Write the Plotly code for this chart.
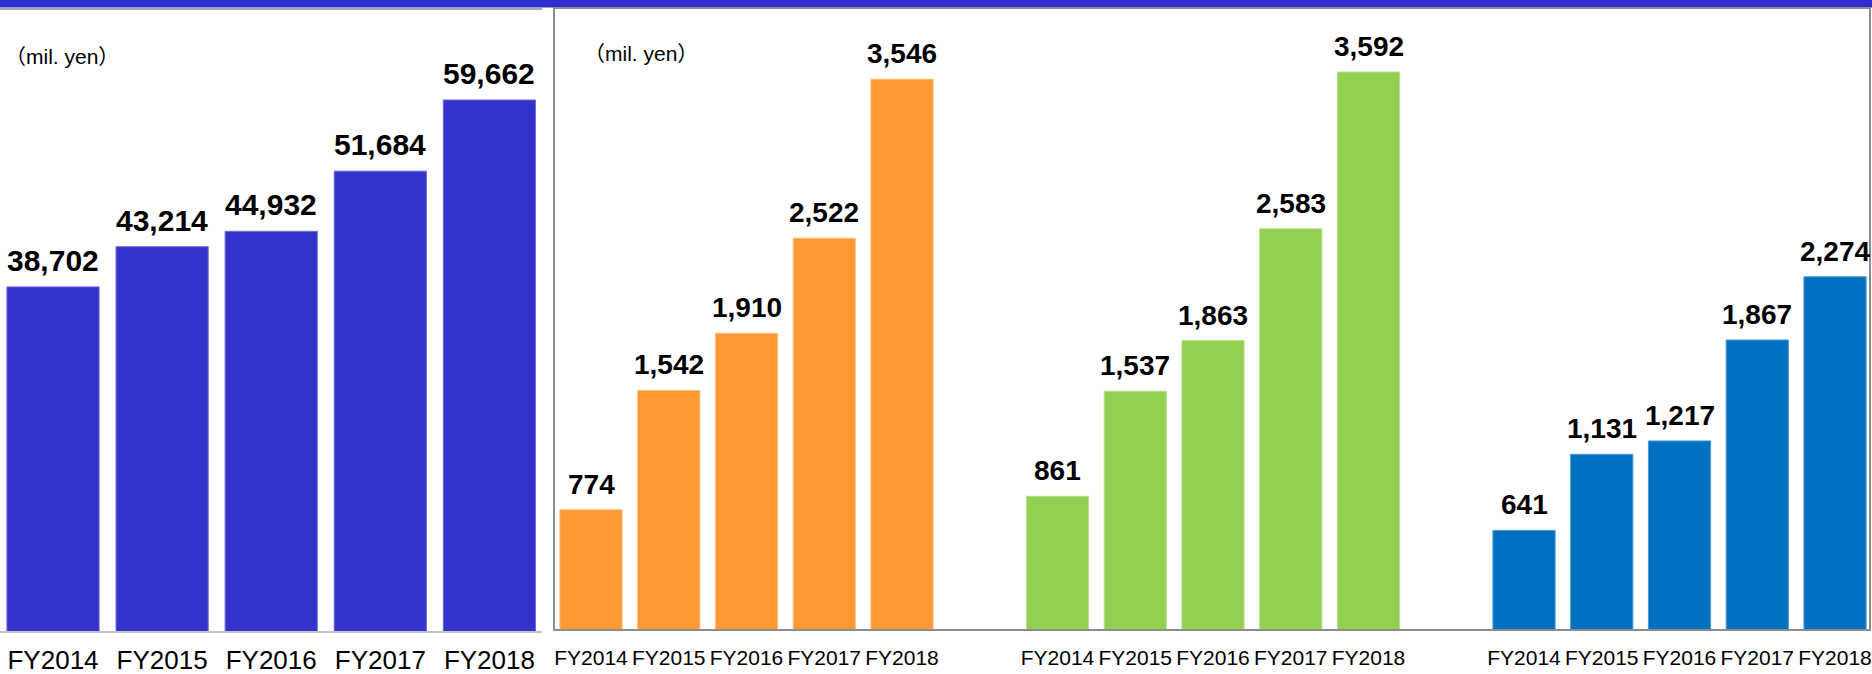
import plotly.graph_objects as go

# Fiscal years shared by every panel
years = ["FY2014", "FY2015", "FY2016", "FY2017", "FY2018"]

# Net sales (mil. yen)
net_sales = [38702, 43214, 44932, 51684, 59662]

# Three profit series (mil. yen) shown side by side in the right panel
series_a = [774, 1542, 1910, 2522, 3546]
series_b = [861, 1537, 1863, 2583, 3592]
series_c = [641, 1131, 1217, 1867, 2274]

W, H = 1872, 674


def px_x(p):
    return p / W


def px_y(p):
    return 1 - p / H


FONT = "Liberation Sans, Arial, sans-serif"

fig = go.Figure()

# ---- left panel: net sales ----
fig.add_trace(go.Bar(
    x=years, y=net_sales, width=0.845,
    marker=dict(color="#3333CC", line=dict(color="#6B6BDD", width=1)),
    xaxis="x", yaxis="y", hoverinfo="skip",
))

# ---- right panel: three groups of five bars, one empty slot between groups ----
right_colors = ["#FF9933", "#92D050", "#0070C0"]
right_edges = ["#FFBE7A", "#B6E08E", "#4A9AD6"]
right_series = [series_a, series_b, series_c]
slots_per_group = len(years) + 1
tick_vals, tick_text = [], []
for g, (vals, col, edge) in enumerate(zip(right_series, right_colors, right_edges)):
    xs = [g * slots_per_group + i for i in range(len(years))]
    tick_vals += xs
    tick_text += years
    fig.add_trace(go.Bar(
        x=xs, y=vals, width=0.80,
        marker=dict(color=col, line=dict(color=edge, width=1)),
        xaxis="x2", yaxis="y2", hoverinfo="skip",
    ))
    for xv, v in zip(xs, vals):
        fig.add_annotation(
            x=xv, y=v, xref="x2", yref="y2", text=f"{v:,}",
            showarrow=False, yanchor="bottom", yshift=8,
            font=dict(family=FONT, size=28, color="#000000", weight="bold"),
        )

for yr, v in zip(years, net_sales):
    fig.add_annotation(
        x=yr, y=v, xref="x", yref="y", text=f"{v:,}",
        showarrow=False, yanchor="bottom", yshift=8,
        font=dict(family=FONT, size=30, color="#000000", weight="bold"),
    )

# unit captions
CAPTION_FONT = dict(family=FONT + ", Noto Sans CJK JP", size=21, color="#000000")
fig.add_annotation(x=px_x(3), y=px_y(57), xref="paper", yref="paper",
                   text="（mil. yen）", showarrow=False, xanchor="left", yanchor="middle",
                   font=CAPTION_FONT)
fig.add_annotation(x=px_x(582), y=px_y(53), xref="paper", yref="paper",
                   text="（mil. yen）", showarrow=False, xanchor="left", yanchor="middle",
                   font=CAPTION_FONT)

shapes = [
    # header band across the top
    dict(type="rect", xref="paper", yref="paper", x0=0, x1=1, y0=px_y(7.5), y1=1,
         fillcolor="#2E2ECC", line=dict(width=0), layer="above"),
    # left panel top and bottom rules
    dict(type="line", xref="paper", yref="paper", x0=0, x1=px_x(542), y0=px_y(9), y1=px_y(9),
         line=dict(color="#A8A8A8", width=2)),
    dict(type="line", xref="paper", yref="paper", x0=0, x1=px_x(542), y0=px_y(632), y1=px_y(632),
         line=dict(color="#C4C4C4", width=2)),
    # right panel frame
    dict(type="rect", xref="paper", yref="paper", x0=px_x(554), x1=px_x(1870),
         y0=px_y(630), y1=px_y(8), line=dict(color="#8C8C8C", width=2), layer="above"),
]

fig.update_layout(
    width=W, height=H, template="none",
    margin=dict(l=0, r=0, t=0, b=0),
    paper_bgcolor="white", plot_bgcolor="white",
    showlegend=False, barmode="overlay",
    shapes=shapes,
    xaxis=dict(domain=[0, px_x(542)], range=[-0.486, 4.482], type="category",
               showgrid=False, zeroline=False, showline=False, ticks="",
               tickfont=dict(family=FONT, size=26, color="#000000"),
               ticklabelstandoff=10, automargin=False, fixedrange=True),
    yaxis=dict(domain=[px_y(632), px_y(9)], range=[0, 69866],
               showgrid=False, zeroline=False, showline=False, showticklabels=False,
               automargin=False, fixedrange=True),
    xaxis2=dict(domain=[px_x(554), px_x(1870)], range=[-0.476, 16.45], anchor="y2",
                tickmode="array", tickvals=tick_vals, ticktext=tick_text,
                showgrid=False, zeroline=False, showline=False, ticks="",
                tickfont=dict(family=FONT, size=21, color="#000000"),
                ticklabelstandoff=13, automargin=False, fixedrange=True),
    yaxis2=dict(domain=[px_y(630), px_y(8)], range=[0, 4004], anchor="x2",
                showgrid=False, zeroline=False, showline=False, showticklabels=False,
                automargin=False, fixedrange=True),
)

fig.write_html("out.html")
